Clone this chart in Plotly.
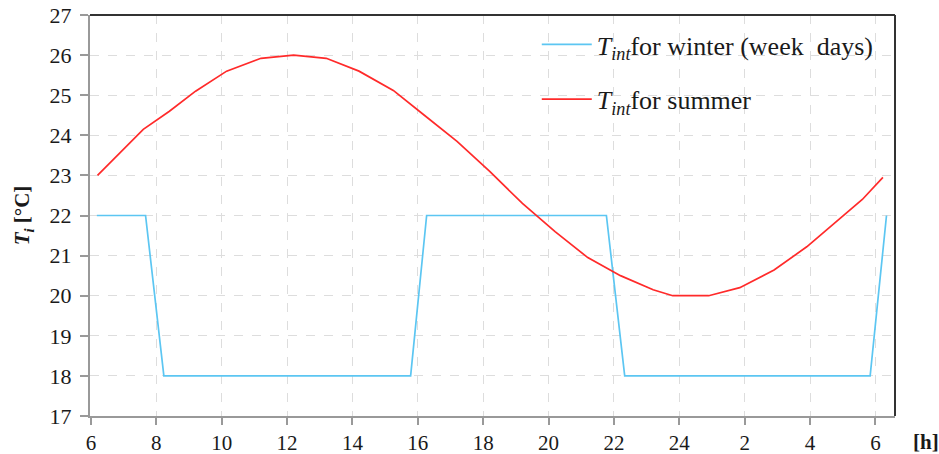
import plotly.graph_objects as go

# Hour of day (continuous, 6 h to 6 h next day) and indoor set temperatures
winter_hours = [6.18, 7.67, 8.23, 15.78, 16.27, 21.77, 22.33, 29.84, 30.34]
winter_temp = [22, 22, 18, 18, 22, 22, 18, 18, 22]

summer_hours = [6.2, 7.6, 8.4, 9.2, 10.15, 11.2, 12.2, 13.2, 14.2, 15.25, 16.2,
                17.2, 18.2, 19.2, 20.2, 21.2, 22.2, 23.2, 23.8, 24.9, 25.85,
                26.9, 27.9, 28.9, 29.6, 30.23]
summer_temp = [23.0, 24.15, 24.6, 25.1, 25.6, 25.92, 26.0, 25.92, 25.6, 25.12, 24.5,
               23.85, 23.1, 22.3, 21.6, 20.95, 20.5, 20.15, 20.0, 20.0, 20.2,
               20.64, 21.22, 21.9, 22.4, 22.95]

tick_vals = [6, 8, 10, 12, 14, 16, 18, 20, 22, 24, 26, 28, 30]
tick_text = ["6", "8", "10", "12", "14", "16", "18", "20", "22", "24", "2", "4", "6"]

serif = "Liberation Serif, Times New Roman, serif"
ink = "#1a1a1a"

fig = go.Figure()
fig.add_trace(go.Scatter(
    x=winter_hours, y=winter_temp, mode="lines",
    line=dict(color="#5cc6f2", width=1.7),
    name="<i>T</i><sub><i>int</i></sub>for winter (week  days)",
    legendgroup="w",
))
fig.add_trace(go.Scatter(
    x=summer_hours, y=summer_temp, mode="lines",
    line=dict(color="#ff2a2a", width=1.7),
    name="<i>T</i><sub><i>int</i></sub>for summer",
    legendgroup="s",
))

fig.update_layout(
    width=939, height=454,
    margin=dict(l=90, r=44, t=15, b=38, autoexpand=False),
    paper_bgcolor="white", plot_bgcolor="white",
    font=dict(family=serif, size=22, color=ink),
    showlegend=True,
    legend=dict(
        x=0.555, y=0.985, xanchor="left", yanchor="top",
        bgcolor="rgba(255,255,255,0)", borderwidth=0,
        font=dict(family=serif, size=26, color=ink),
        tracegroupgap=18, itemwidth=50,
    ),
    xaxis=dict(
        range=[5.97, 30.6], tickvals=tick_vals, ticktext=tick_text,
        showgrid=True, gridcolor="#dddddd", griddash="dash", gridwidth=1,
        zeroline=False, showline=True, linecolor="#999999", linewidth=2,
        ticks="outside", ticklen=7, tickcolor="#999999", tickwidth=1.5,
        tickfont=dict(family=serif, size=21, color=ink),
        automargin=False,
    ),
    yaxis=dict(
        range=[17, 27], dtick=1,
        showgrid=True, gridcolor="#dddddd", griddash="dash", gridwidth=1,
        zeroline=False, showline=True, linecolor="#999999", linewidth=2,
        ticks="outside", ticklen=8, tickcolor="#999999", tickwidth=1.5,
        ticklabelstandoff=4,
        tickfont=dict(family=serif, size=22, color=ink),
        title=dict(text="<b><i>T</i><sub><i>i</i></sub> [°C]</b>",
                   font=dict(family=serif, size=21, color=ink), standoff=14),
        automargin=False,
    ),
    shapes=[
        dict(type="line", xref="paper", yref="paper", x0=0, x1=1, y0=1, y1=1,
             line=dict(color="#333333", width=2)),
        dict(type="line", xref="paper", yref="paper", x0=1, x1=1, y0=0, y1=1,
             line=dict(color="#333333", width=2)),
    ],
    annotations=[
        dict(text="<b>[h]</b>", xref="paper", yref="paper", x=1.02, y=-0.03,
             xanchor="left", yanchor="top", showarrow=False,
             font=dict(family=serif, size=21, color=ink)),
    ],
)

fig.write_html("out.html")
